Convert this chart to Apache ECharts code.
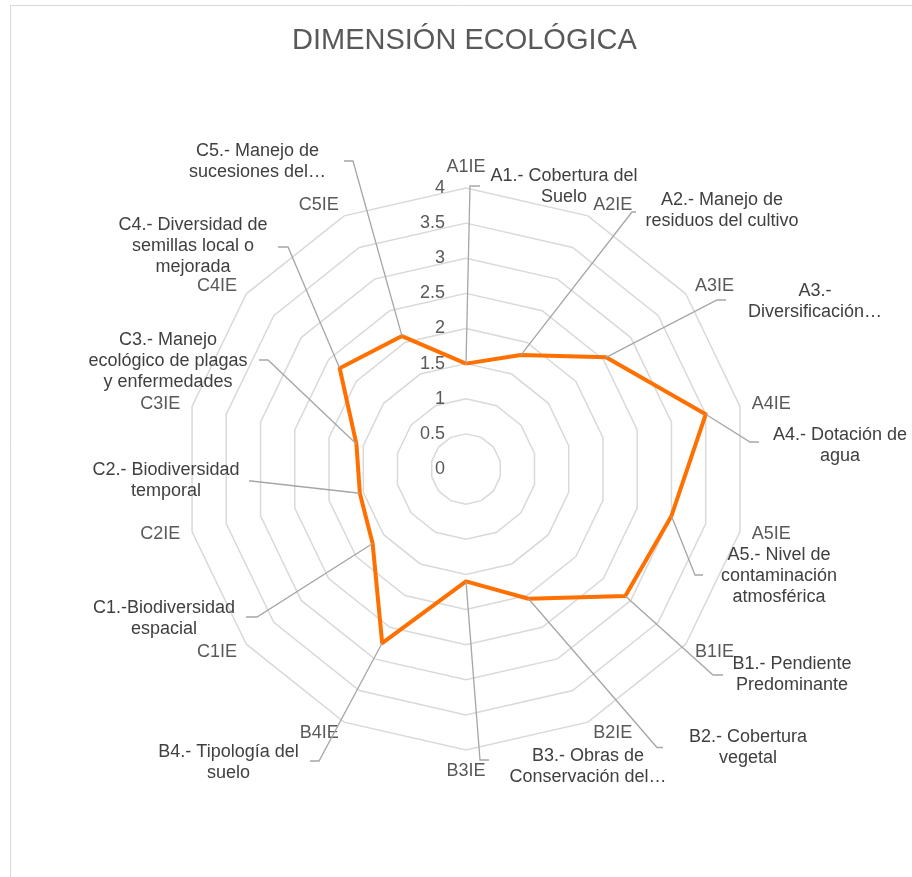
<!DOCTYPE html>
<html>
<head>
<meta charset="utf-8">
<script src="https://cdn.jsdelivr.net/npm/echarts@6/dist/echarts.min.js"></script>
<style>
html,body{margin:0;padding:0;background:#fff;}
#main{width:912px;height:877px;}
</style>
</head>
<body>
<div id="main"></div>
<script>
// ---- data ----
const categories = ['A1IE','A2IE','A3IE','A4IE','A5IE','B1IE','B2IE','B3IE','B4IE','C1IE','C2IE','C3IE','C4IE','C5IE'];
const values = [1.5, 1.8, 2.55, 3.5, 3.0, 2.9, 2.05, 1.6, 2.75, 1.7, 1.55, 1.6, 2.3, 2.1];
const pointLabels = [
  'A1.- Cobertura del\nSuelo',
  'A2.- Manejo de\nresiduos del cultivo',
  'A3.-\nDiversificación…',
  'A4.- Dotación de\nagua',
  'A5.- Nivel de\ncontaminación\natmosférica',
  'B1.- Pendiente\nPredominante',
  'B2.- Cobertura\nvegetal',
  'B3.- Obras de\nConservación del…',
  'B4.- Tipología del\nsuelo',
  'C1.-Biodiversidad\nespacial',
  'C2.- Biodiversidad\ntemporal',
  'C3.- Manejo\necológico de plagas\ny enfermedades',
  'C4.- Diversidad de\nsemillas local o\nmejorada',
  'C5.- Manejo de\nsucesiones del…'
];
const axisMax = 4;
const axisStep = 0.5;
const titleText = 'DIMENSIÓN ECOLÓGICA';

// ---- layout (label boxes and leader elbows, pixels) ----
const labelLayout = [
  {cx:564, top:165.5, ex:470, ey:186, hx:480},
  {cx:722, top:190,   ex:632, ey:212, hx:636},
  {cx:815, top:281,   ex:717, ey:300, hx:726},
  {cx:840, top:424.5, ex:750, ey:442, hx:759},
  {cx:779, top:544.5, ex:695, ey:575, hx:703},
  {cx:792, top:653.5, ex:713, ey:675, hx:723},
  {cx:748, top:727,   ex:657, ey:747.5, hx:663},
  {cx:588, top:746,   ex:480, ey:760, hx:489},
  {cx:228.5, top:742, ex:319, ey:761, hx:310},
  {cx:164, top:598,   ex:257, ey:617, hx:246},
  {cx:166, top:460,   ex:251, ey:481, hx:249},
  {cx:168, top:329.5, ex:268, ey:360, hx:259},
  {cx:193, top:215,   ex:288, ey:247, hx:278},
  {cx:257.5, top:141, ex:353, ey:161, hx:344}
];

const CENTER = [466, 469];
const RADIUS = 281;
const FONT = "'Liberation Sans', Arial, sans-serif";
const TXT = '#595959';
const LABEL_TXT = '#404040';

// ECharts places radar indicators counter-clockwise; reorder so they run clockwise from top
const order = [0].concat(categories.map((_, i) => i).slice(1).reverse());
const indicators = order.map(i => ({name: categories[i], min: 0, max: axisMax}));
const radarValues = order.map(i => values[i]);

const chart = echarts.init(document.getElementById('main'), null, {renderer: 'canvas'});
chart.setOption({
  animation: false,
  backgroundColor: '#fff',
  title: {
    text: titleText, left: 287, top: 21,
    textStyle: {fontFamily: FONT, fontSize: 29, fontWeight: 'normal', color: TXT}
  },
  radar: {
    center: CENTER, radius: RADIUS, startAngle: 90,
    splitNumber: axisMax / axisStep,
    shape: 'polygon',
    indicator: indicators,
    axisName: {color: TXT, fontFamily: FONT, fontSize: 18},
    nameGap: 12,
    axisLine: {show: false},
    axisTick: {show: false},
    axisLabel: {show: false},
    splitArea: {show: false},
    splitLine: {lineStyle: {color: '#d9d9d9', width: 1.5}}
  },
  grid: {left: CENTER[0], top: CENTER[1] - RADIUS, width: 1, height: RADIUS, containLabel: false},
  xAxis: {type: 'value', show: false},
  yAxis: {
    type: 'value', min: 0, max: axisMax, interval: axisStep,
    axisLine: {show: false}, axisTick: {show: false}, splitLine: {show: false},
    axisLabel: {color: TXT, fontFamily: FONT, fontSize: 18, margin: 21}
  },
  series: [{
    type: 'radar',
    symbol: 'none',
    lineStyle: {color: '#ff7000', width: 4, join: 'round'},
    data: [{value: radarValues, name: 'Dimensión ecológica'}]
  }]
});

// compute data point pixels through radar coordinate system
function pointFor(i) {
  const idx = order.indexOf(i);
  try {
    const cs = chart.getModel().getComponent('radar', 0).coordinateSystem;
    const p = cs.dataToPoint(values[i], idx);
    if (p && isFinite(p[0])) return p;
  } catch (e) {}
  const ang = Math.PI / 2 - i * 2 * Math.PI / categories.length;
  const r = values[i] / axisMax * RADIUS;
  return [CENTER[0] + r * Math.cos(ang), CENTER[1] - r * Math.sin(ang)];
}

const graphics = [{
  type: 'rect', silent: true,
  shape: {x: 10.5, y: 5.5, width: 1000, height: 1000},
  style: {fill: 'none', stroke: '#d9d9d9', lineWidth: 1}
}];
labelLayout.forEach((L, i) => {
  const p = pointFor(i);
  graphics.push({
    type: 'polyline', silent: true, z: 5,
    shape: {points: [p, [L.ex, L.ey], [L.hx, L.ey]]},
    style: {stroke: '#a6a6a6', lineWidth: 1.3, fill: 'none'}
  });
  graphics.push({
    type: 'text', silent: true, z: 6,
    x: L.cx, y: L.top,
    style: {
      text: pointLabels[i], fill: LABEL_TXT, font: '18px ' + FONT,
      align: 'center', verticalAlign: 'top', lineHeight: 21
    }
  });
});
chart.setOption({graphic: graphics});
</script>
</body>
</html>
